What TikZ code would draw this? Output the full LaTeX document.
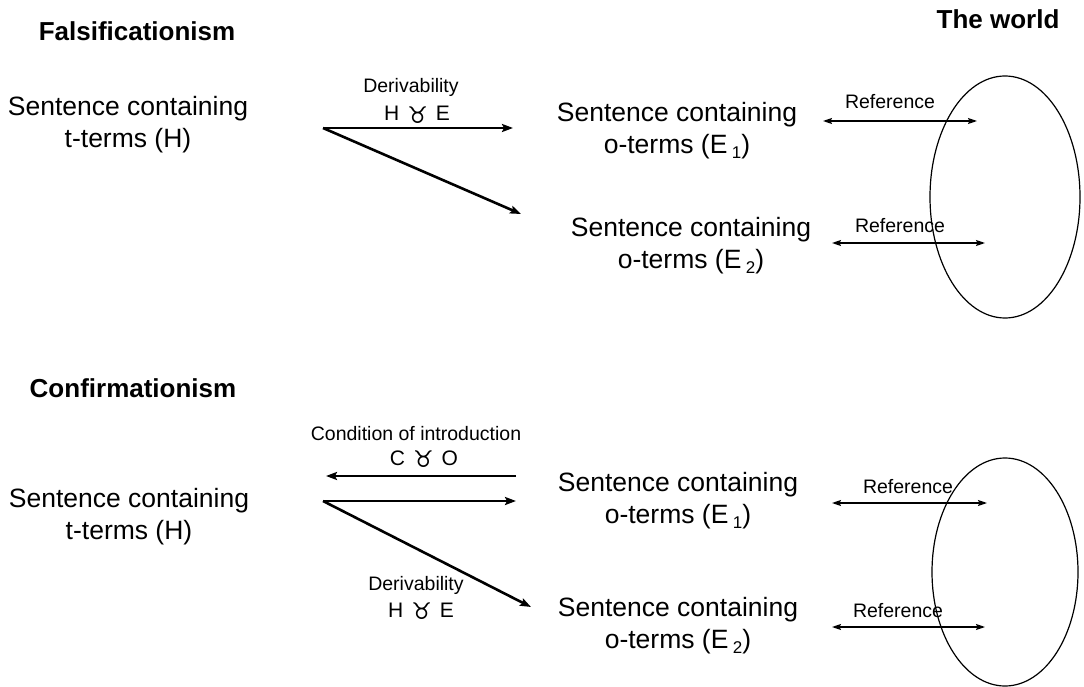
\documentclass[tikz,border=0pt]{standalone}
\usepackage{fontspec}
\setmainfont{Liberation Sans}
\newfontfamily\symfont{DejaVu Sans}
\usetikzlibrary{arrows.meta}

% entailment-like sign between two letters
\newcommand{\derivsign}[2]{{\fontsize{21}{23}\selectfont #1\hskip 8pt\raisebox{-2.5pt}{\symfont\fontsize{23}{23}\selectfont ♉}\hskip 8pt #2}}
% lowered small index
\newcommand{\lowidx}[1]{\,\raisebox{-0.35ex}{\fontsize{17}{17}\selectfont #1}}

\tikzset{
  sentence/.style={align=center, inner sep=0pt, font=\fontsize{26.5}{32}\selectfont},
  heading/.style={inner sep=0pt, font=\fontsize{26}{30}\selectfont\bfseries},
  lbl/.style={inner sep=0pt, anchor=base, font=\fontsize{19.5}{23}\selectfont},
  derive/.style={line width=2.6pt, -{Stealth[length=11pt,width=8pt,inset=2pt]}},
  refarrow/.style={line width=1.4pt,
    {Stealth[length=9pt,width=6pt,inset=1.5pt]}-{Stealth[length=9pt,width=6pt,inset=1.5pt]}},
  world/.style={line width=1.2pt},
}

\begin{document}
\begin{tikzpicture}[x=1pt,y=-1pt]
  \useasboundingbox (0,0) rectangle (1084,687);

  % headings
  \node[heading] (fals)  at (137,31)  {Falsificationism};
  \node[heading] (world) at (998,19)  {The world};
  \node[heading] (conf)  at (133,388) {Confirmationism};

  % the world
  \draw[world] (1005,197) ellipse [x radius=75pt, y radius=121pt];
  \draw[world] (1005,572) ellipse [x radius=73pt, y radius=114pt];

  % ---------- falsificationism ----------
  \node[sentence] (fH)  at (128,125) {Sentence containing\\t-terms (H)};
  \node[sentence] (fE1) at (677,131) {Sentence containing\\o-terms (E\lowidx{1})};
  \node[sentence] (fE2) at (691,246) {Sentence containing\\o-terms (E\lowidx{2})};

  \coordinate (fs)  at (323,128);
  \coordinate (fe1) at (513,128);
  \coordinate (fe2) at (521,214);
  \draw[derive] (fs) -- (fe1);
  \draw[derive] (fs) -- (fe2);
  \node[lbl] (fdl) at (411,93)  {Derivability};
  \node[lbl] (fds) at (417,121) {\derivsign{H}{E}};

  \coordinate (r1a) at (823,121);
  \coordinate (r1b) at (977,121);
  \draw[refarrow] (r1a) -- (r1b);
  \node[lbl] (r1l) at (890,109) {Reference};

  \coordinate (r2a) at (832,243);
  \coordinate (r2b) at (985,243);
  \draw[refarrow] (r2a) -- (r2b);
  \node[lbl] (r2l) at (900,233) {Reference};

  % ---------- confirmationism ----------
  \node[sentence] (cH)  at (129,517) {Sentence containing\\t-terms (H)};
  \node[sentence] (cE1) at (678,501) {Sentence containing\\o-terms (E\lowidx{1})};
  \node[sentence] (cE2) at (678,626) {Sentence containing\\o-terms (E\lowidx{2})};

  \coordinate (cl1) at (516,476);
  \coordinate (cl2) at (326,476);
  \draw[derive] (cl1) -- (cl2);
  \node[lbl] (cil) at (416,440) {Condition of introduction};
  \node[lbl] (cis) at (424,465) {\derivsign{C}{O}};

  \coordinate (cs)  at (323,501);
  \coordinate (ce1) at (516,501);
  \coordinate (ce2) at (531,607);
  \draw[derive] (cs) -- (ce1);
  \draw[derive] (cs) -- (ce2);
  \node[lbl] (cdl) at (416,590) {Derivability};
  \node[lbl] (cds) at (421,617) {\derivsign{H}{E}};

  \coordinate (r3a) at (832,503);
  \coordinate (r3b) at (987,503);
  \draw[refarrow] (r3a) -- (r3b);
  \node[lbl] (r3l) at (908,493) {Reference};

  \coordinate (r4a) at (832,627);
  \coordinate (r4b) at (985,627);
  \draw[refarrow] (r4a) -- (r4b);
  \node[lbl] (r4l) at (898,617) {Reference};
\end{tikzpicture}
\end{document}
